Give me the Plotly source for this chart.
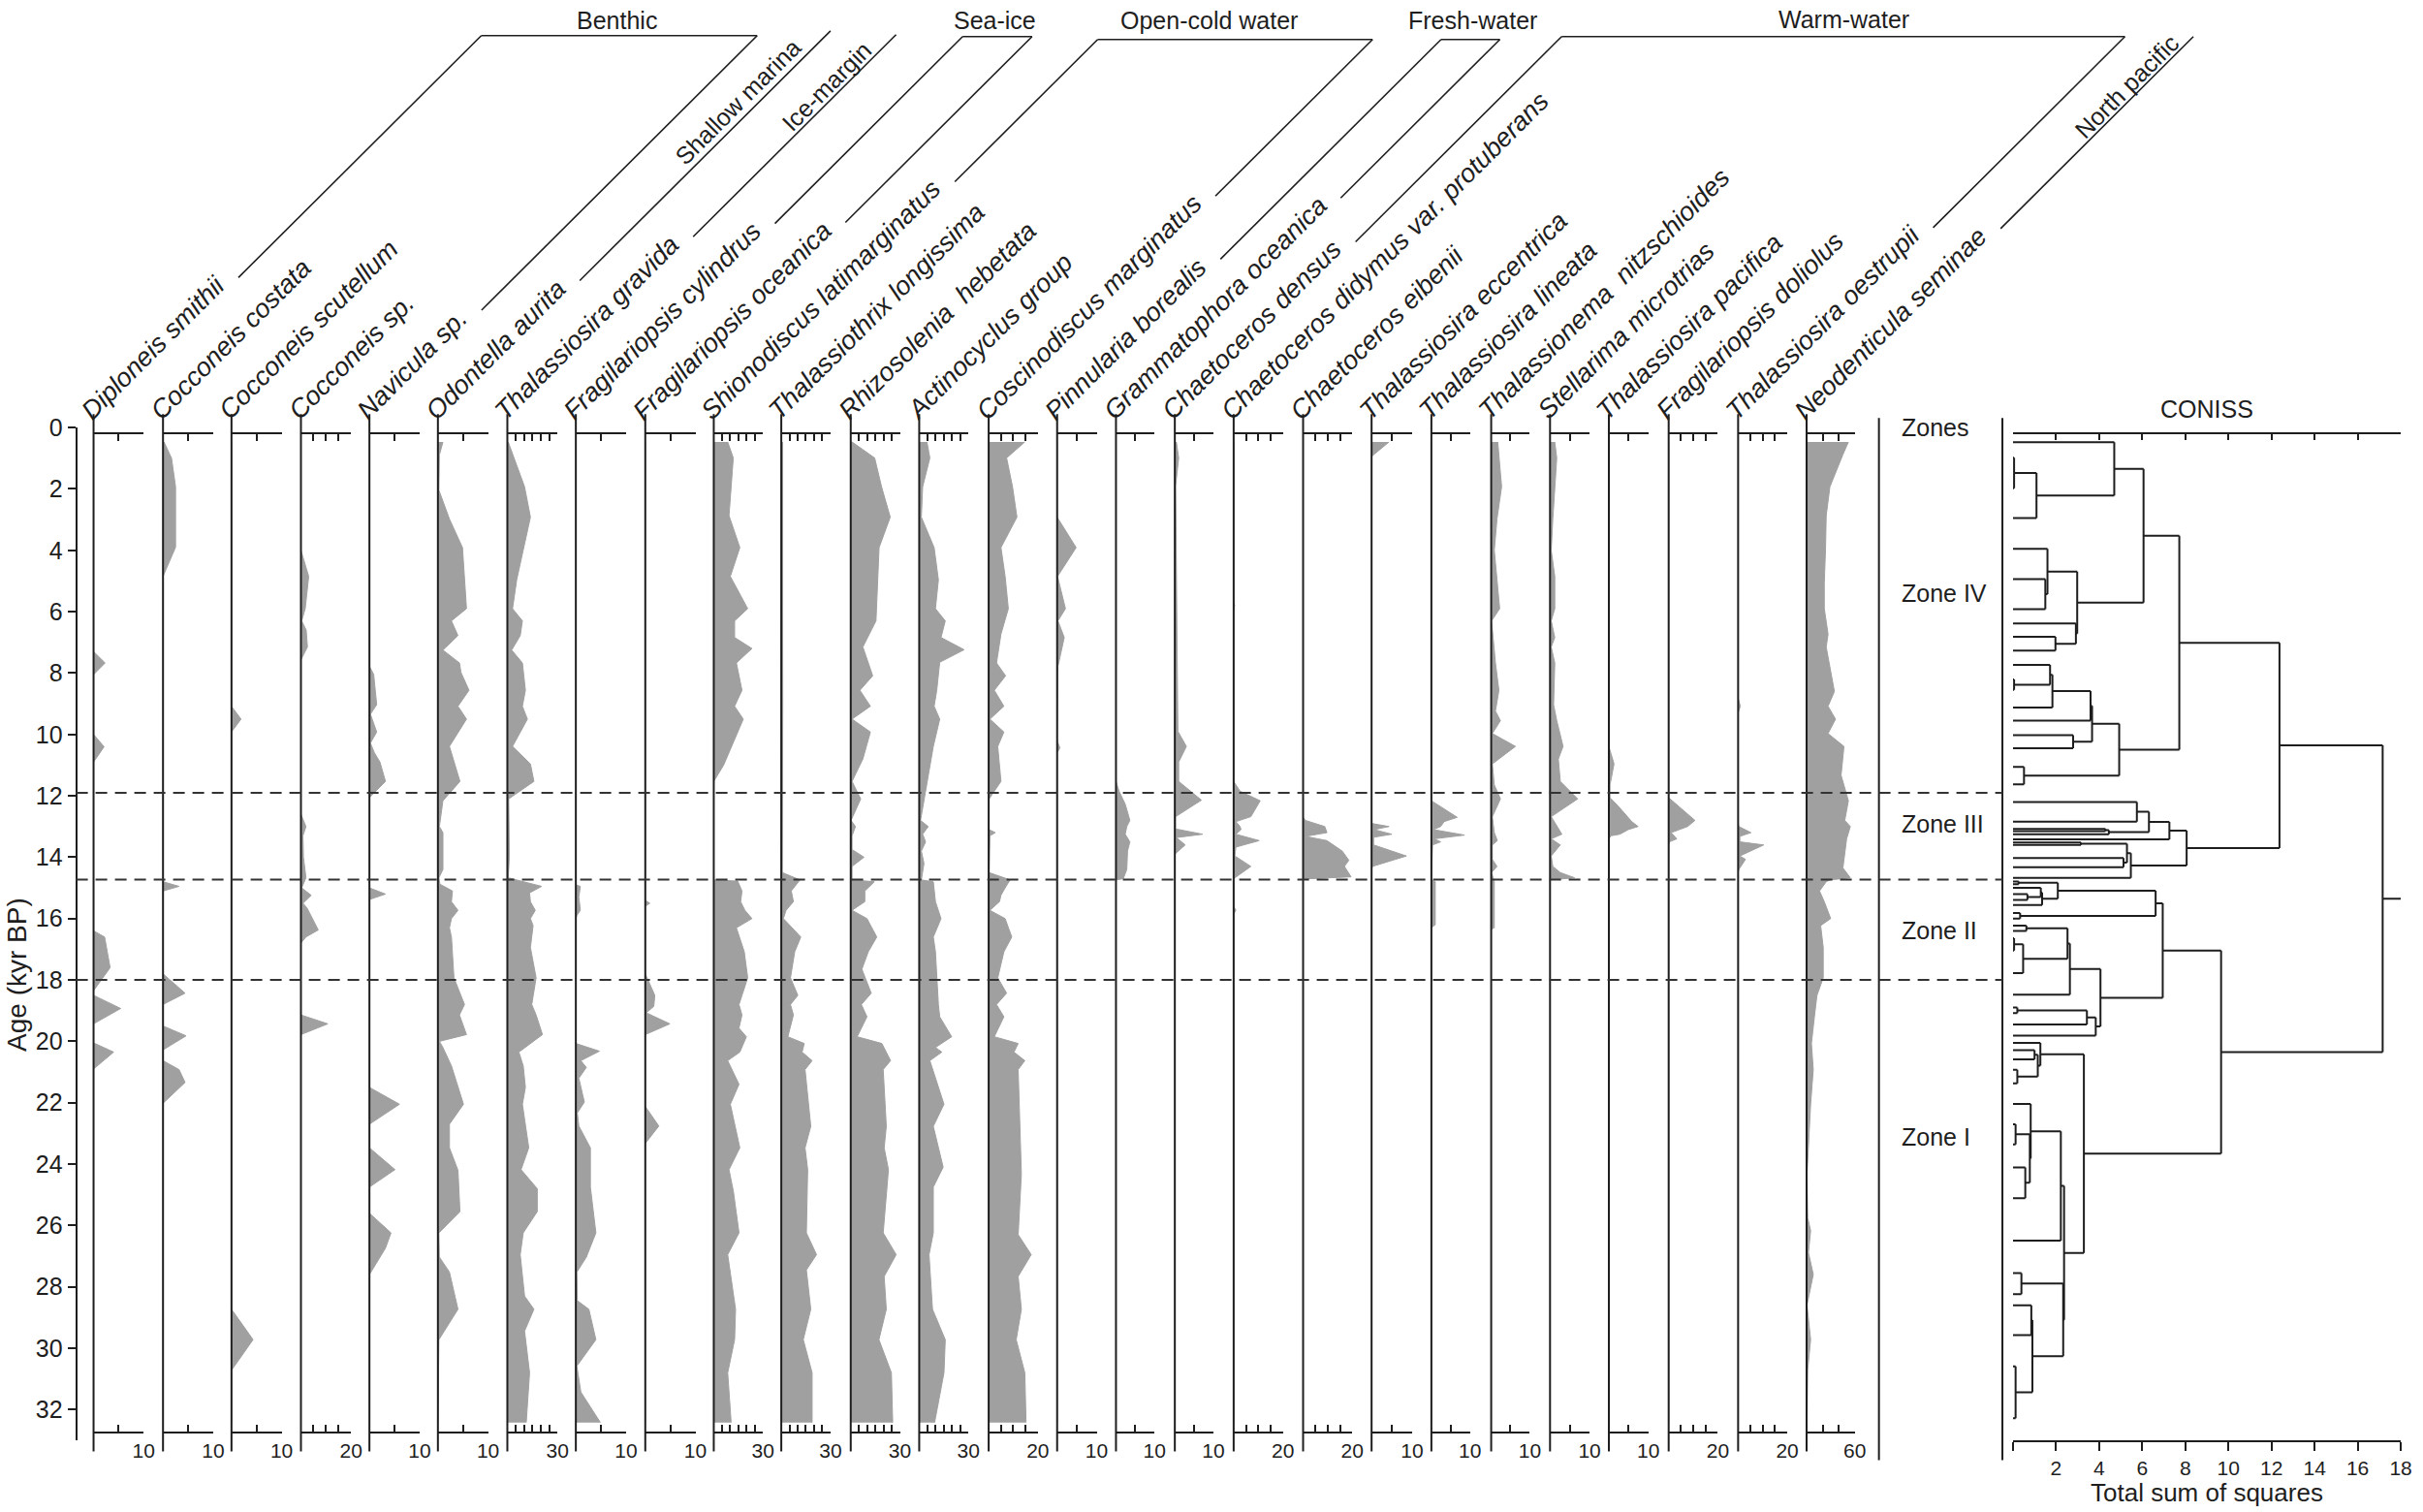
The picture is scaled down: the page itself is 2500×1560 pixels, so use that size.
import plotly.graph_objects as go

# ------------------------------------------------------------------ DATA
age_ticks = list(range(0, 33, 2))
zone_bounds = [11.9, 14.73, 18.0]
zone_names = ["Zones", "Zone IV", "Zone III", "Zone II", "Zone I"]
zone_label_ages = [0.0, 5.4, 12.9, 16.4, 23.1]

taxa = ["Diploneis smithii", "Cocconeis costata", "Cocconeis scutellum", "Cocconeis sp.",
        "Navicula sp.", "Odontella aurita", "Thalassiosira gravida", "Fragilariopsis cylindrus",
        "Fragilariopsis oceanica", "Shionodiscus latimarginatus", "Thalassiothrix longissima",
        "Rhizosolenia\u00a0 hebetata", "Actinocyclus group", "Coscinodiscus marginatus",
        "Pinnularia borealis", "Grammatophora oceanica", "Chaetoceros densus",
        "Chaetoceros didymus var. protuberans", "Chaetoceros eibenii", "Thalassiosira eccentrica",
        "Thalassiosira lineata", "Thalassionema\u00a0 nitzschioides", "Stellarima microtrias",
        "Thalassiosira pacifica", "Fragilariopsis doliolus", "Thalassiosira oestrupii",
        "Neodenticula seminae"]
scale_max = [10, 10, 10, 20, 10, 10, 30, 10, 10, 30, 30, 30, 30, 20, 10, 10, 10, 20, 20,
             10, 10, 10, 10, 10, 20, 20, 60]
tick_step = [5] * 26 + [20]

group_names = ["Benthic", "Shallow marina", "Ice-margin", "Sea-ice", "Open-cold water",
               "Fresh-water", "Warm-water", "North pacific"]
group_first = [0, 5, 6, 7, 9, 14, 16, 26]
group_last = [4, 5, 6, 8, 13, 15, 25, 26]

# (age kyr BP, percentage)
diploneis_smithii = [(0.5, 0), (7.3, 0), (7.67, 2.3), (8.05, 0), (10.0, 0), (10.4, 2.1), (10.9, 0),
                     (16.4, 0), (16.6, 2.2), (17.6, 3.3), (18.35, 0), (18.5, 0), (18.93, 5.4),
                     (19.43, 0), (20.05, 0), (20.35, 4.0), (20.9, 0), (32.4, 0)]
cocconeis_costata = [(0.47, 0.2), (1.0, 1.7), (1.93, 2.5), (3.9, 2.5), (4.85, 0), (14.8, 0),
                     (14.95, 3.2), (15.1, 0), (17.8, 0), (18.43, 4.4), (18.8, 0), (19.5, 0),
                     (19.82, 4.6), (20.28, 0), (20.63, 0), (20.92, 3.2), (21.34, 4.4), (22.02, 0),
                     (32.4, 0)]
cocconeis_scutellum = [(0.5, 0), (9.08, 0), (9.5, 1.9), (9.92, 0), (28.73, 0), (29.72, 4.3),
                       (30.72, 0), (32.4, 0)]
cocconeis_sp = [(0.5, 0), (4.0, 0), (4.85, 3.1), (5.9, 1.7), (6.3, 0.3), (6.6, 2.1), (7.15, 2.6),
                (7.57, 0), (12.6, 0), (12.8, 1.0), (13.0, 2.0), (13.3, 0.8), (14.0, 1.0),
                (14.67, 2.0), (15.0, 0.3), (15.24, 4.1), (15.5, 0.8), (15.65, 2.4), (16.0, 4.6),
                (16.37, 6.9), (16.6, 2.0), (16.8, 0), (19.14, 0), (19.43, 10.7), (19.78, 0),
                (32.4, 0)]
navicula_sp = [(0.5, 0), (7.78, 0), (8.04, 0.85), (9.03, 1.45), (9.34, 0.2), (9.92, 1.45),
               (10.28, 0.2), (10.6, 1.0), (10.9, 2.1), (11.53, 3.2), (12.06, 0), (15.0, 0),
               (15.2, 3.2), (15.38, 0), (21.5, 0), (22.05, 6.0), (22.7, 0), (23.47, 0),
               (24.18, 5.1), (24.75, 0), (25.6, 0), (26.24, 4.3), (26.74, 3.2), (27.6, 0),
               (32.4, 0)]
odontella_aurita = [(0.47, 1.0), (0.89, 0.3), (2.04, 0.2), (2.98, 2.3), (3.91, 4.9), (5.9, 5.7),
                    (6.3, 2.7), (6.78, 4.0), (7.25, 1.0), (7.67, 4.3), (7.98, 4.6), (8.56, 6.2),
                    (9.08, 4.0), (9.5, 5.7), (10.39, 2.3), (11.53, 4.4), (12.16, 1.0), (13.0, 0.3),
                    (13.2, 1.0), (14.4, 1.0), (14.67, 0.2), (14.88, 0.4), (15.1, 2.9),
                    (15.45, 2.7), (15.73, 4.0), (16.0, 2.7), (16.3, 2.3), (16.6, 2.7),
                    (17.93, 3.2), (18.8, 5.3), (19.14, 4.3), (19.78, 5.7), (20.0, 0.3),
                    (20.2, 1.0), (20.8, 2.7), (22.05, 5.1), (22.7, 2.3), (23.47, 2.3), (24.2, 4.0),
                    (25.55, 4.4), (26.24, 0.2), (27.03, 0.3), (27.52, 2.3), (28.73, 4.0),
                    (29.72, 0.2), (32.4, 0)]
thalassiosira_gravida = [(0.47, 0.5), (1.93, 10.3), (2.92, 13.8), (4.96, 5.6), (5.9, 3.1),
                         (6.3, 9.0), (6.78, 7.7), (7.25, 2.6), (7.67, 9.0), (8.56, 10.8),
                         (9.08, 9.0), (9.5, 12.0), (10.39, 3.1), (10.96, 13.8), (11.53, 15.9),
                         (12.1, 0.8), (13.0, 1.0), (14.0, 1.2), (14.67, 0.5), (14.8, 9.5),
                         (14.95, 20.5), (15.16, 13.3), (15.45, 13.8), (15.73, 16.7), (16.0, 13.8),
                         (16.23, 15.4), (16.94, 13.8), (17.93, 17.2), (18.8, 14.6), (19.14, 17.2),
                         (19.78, 21.0), (20.35, 6.9), (20.8, 9.5), (21.5, 10.8), (22.05, 9.0),
                         (23.47, 12.8), (24.18, 8.2), (24.8, 17.9), (25.55, 17.9), (26.24, 9.5),
                         (26.95, 7.7), (28.3, 10.3), (28.73, 15.9), (29.44, 10.3), (30.8, 13.3),
                         (32.42, 11.3)]
fragilariopsis_cylindrus = [(0.5, 0), (14.9, 0), (14.95, 0.9), (15.3, 0.6), (15.73, 0.9),
                            (15.9, 0.2), (16.0, 0), (20.07, 0), (20.32, 4.7), (20.63, 1.0),
                            (20.85, 2.1), (21.2, 0.6), (21.98, 1.7), (22.33, 0.3), (22.76, 0.6),
                            (23.47, 2.9), (24.75, 2.9), (26.24, 4.0), (27.03, 2.1), (27.52, 0.2),
                            (28.45, 0.3), (28.73, 2.6), (29.72, 4.0), (30.58, 0.2), (31.43, 1.0),
                            (32.42, 4.9)]
fragilariopsis_oceanica = [(0.5, 0), (15.4, 0), (15.5, 0.9), (15.6, 0), (17.8, 0), (18.2, 1.0),
                           (18.5, 1.9), (18.86, 1.7), (19.07, 0.2), (19.43, 4.9), (19.78, 0),
                           (22.12, 0), (22.76, 2.7), (23.33, 0), (32.4, 0)]
shionodiscus_latimarginatus = [(0.47, 8.5), (0.99, 11.9), (2.87, 9.3), (3.91, 15.9), (4.85, 10.1),
                               (5.9, 20.7), (6.3, 12.7), (6.84, 12.7), (7.2, 23.3), (7.67, 13.8),
                               (8.56, 17.2), (9.08, 12.7), (9.5, 18.0), (10.39, 10.6), (11.0, 6.0),
                               (11.53, 0), (14.74, 0), (14.78, 14.6), (15.1, 17.2), (15.45, 16.4),
                               (15.73, 19.0), (16.0, 23.3), (16.3, 13.8), (17.08, 18.6),
                               (17.93, 20.7), (18.8, 15.4), (19.14, 17.2), (19.57, 15.4),
                               (19.85, 19.9), (20.35, 15.9), (20.63, 8.5), (21.4, 15.4),
                               (22.05, 10.1), (23.47, 15.9), (24.18, 9.3), (24.9, 12.0),
                               (26.24, 15.4), (26.95, 8.5), (28.73, 13.3), (29.72, 12.7),
                               (30.8, 8.5), (32.42, 10.6)]
thalassiothrix_longissima = [(0.47, 0.8), (3.0, 0.6), (6.0, 0.8), (9.0, 0.9), (12.0, 0.7),
                             (13.0, 0.5), (14.5, 0.6), (14.74, 11.4), (15.1, 6.1), (15.45, 7.4),
                             (15.73, 2.9), (16.0, 1.3), (16.6, 11.9), (17.08, 8.2), (17.93, 5.6),
                             (18.5, 10.1), (18.8, 5.6), (19.14, 7.4), (19.85, 4.0), (20.07, 14.0),
                             (20.35, 12.7), (20.63, 18.8), (20.92, 14.5), (22.77, 18.0),
                             (23.47, 14.5), (24.18, 16.1), (26.24, 15.3), (26.95, 21.5),
                             (27.45, 15.3), (28.73, 18.0), (29.72, 13.4), (30.8, 18.8),
                             (32.42, 18.8)]
rhizosolenia_hebetata = [(0.47, 0.8), (0.99, 14.6), (1.93, 18.8), (2.92, 24.1), (3.91, 17.3),
                         (6.3, 15.4), (7.15, 7.4), (8.09, 13.4), (8.56, 5.6), (9.08, 12.0),
                         (9.5, 0.8), (9.92, 12.0), (10.8, 7.4), (11.53, 0.8), (12.1, 6.1),
                         (12.8, 0.2), (13.0, 2.9), (13.3, 0.8), (13.75, 0.8), (14.0, 8.1),
                         (14.3, 0.8), (14.74, 0.8), (14.8, 14.4), (15.1, 8.6), (15.45, 8.6),
                         (15.73, 0.8), (16.0, 9.9), (16.6, 15.9), (17.08, 10.7), (17.65, 6.8),
                         (18.43, 12.5), (18.8, 6.5), (19.2, 9.9), (19.85, 3.9), (20.07, 19.0),
                         (20.63, 24.3), (20.92, 19.8), (22.77, 21.7), (23.47, 20.4), (24.18, 23.0),
                         (26.24, 19.8), (26.95, 27.7), (27.66, 20.4), (28.73, 21.7), (29.72, 17.2),
                         (30.8, 24.8), (32.42, 25.6)]
actinocyclus_group = [(0.47, 4.7), (0.99, 6.5), (1.93, 2.1), (2.92, 1.3), (3.91, 9.1), (4.96, 11.7),
                      (5.9, 9.9), (6.3, 15.9), (6.84, 13.3), (7.24, 27.4), (7.65, 12.5), (8.56, 10.7),
                      (9.08, 9.1), (9.5, 12.5), (10.39, 8.6), (11.53, 4.7), (12.8, 0.8), (13.0, 5.5),
                      (13.25, 2.1), (13.5, 3.9), (13.8, 1.3), (14.2, 2.9), (14.74, 1.3), (14.8, 8.6),
                      (15.24, 9.4), (15.45, 9.9), (16.0, 13.3), (16.6, 8.6), (17.08, 9.9),
                      (17.93, 10.7), (18.8, 11.7), (19.2, 12.5), (19.85, 19.8), (20.2, 9.9),
                      (20.35, 13.8), (20.63, 6.5), (22.05, 15.1), (22.77, 8.6), (24.1, 14.6),
                      (24.75, 8.6), (26.24, 8.6), (26.95, 6.0), (28.73, 8.1), (29.72, 15.9),
                      (30.8, 15.1), (32.42, 9.4)]
coscinodiscus_marginatus = [(0.47, 14.7), (0.99, 7.3), (1.93, 9.7), (2.92, 11.5), (3.91, 5.0),
                            (4.85, 6.7), (5.9, 8.0), (6.73, 5.0), (7.67, 3.2), (8.09, 6.9),
                            (8.56, 2.3), (9.08, 6.2), (9.5, 0.5), (9.92, 6.2), (10.39, 3.7),
                            (11.53, 5.0), (12.1, 0.2), (13.1, 0.2), (13.2, 2.7), (13.3, 0.5),
                            (14.5, 0.2), (14.74, 8.7), (15.0, 6.7), (15.24, 5.0), (15.45, 4.4),
                            (15.73, 0.5), (16.0, 6.7), (16.6, 9.4), (17.08, 6.2), (17.93, 3.7),
                            (18.43, 7.3), (18.8, 3.2), (19.2, 6.2), (19.85, 2.3), (20.07, 12.0),
                            (20.35, 10.3), (20.63, 14.7), (20.92, 12.0), (24.33, 13.3), (26.3, 12.0),
                            (26.95, 17.3), (27.66, 12.0), (28.73, 13.3), (29.72, 11.2), (30.8, 14.7),
                            (32.42, 15.2)]
pinnularia_borealis = [(0.5, 0), (2.92, 0), (3.91, 4.8), (4.85, 0.1), (5.9, 2.1), (6.3, 0.2),
                       (6.84, 1.8), (7.78, 0.2), (10.2, 0), (10.44, 0.7), (10.6, 0), (32.4, 0)]
grammatophora_oceanica = [(0.5, 0), (11.53, 0), (11.85, 0.8), (12.27, 2.4), (12.8, 3.6),
                          (13.0, 2.8), (13.25, 2.4), (13.5, 3.6), (13.8, 3.0), (14.4, 2.8),
                          (14.7, 1.9), (14.74, 0), (32.4, 0)]
chaetoceros_densus = [(0.47, 0.4), (0.99, 1.0), (1.9, 0.2), (5.27, 0.4), (9.9, 0.8), (10.39, 3.0),
                      (10.9, 1.0), (11.53, 1.0), (12.14, 6.9), (12.68, 0.2), (13.08, 0.2),
                      (13.25, 7.2), (13.36, 0.4), (13.6, 2.7), (13.89, 0.1), (14.74, 0), (32.4, 0)]
chaetoceros_didymus = [(0.5, 0), (5.6, 0), (5.8, 0.4), (6.0, 0), (11.53, 0), (11.85, 2.6),
                       (12.16, 10.8), (12.68, 7.0), (12.84, 0.9), (13.0, 2.6), (13.1, 3.0),
                       (13.25, 0.9), (13.46, 10.4), (13.67, 0.9), (13.96, 0.5), (14.3, 7.0),
                       (14.67, 0.5), (14.74, 0), (15.6, 0), (15.73, 0.9), (15.85, 0), (32.4, 0)]
chaetoceros_eibenii = [(0.5, 0), (12.7, 0), (12.8, 0.9), (13.0, 8.8), (13.2, 9.7), (13.32, 0.9),
                       (13.46, 9.7), (13.8, 15.9), (14.1, 18.6), (14.3, 16.8), (14.64, 19.5),
                       (14.71, 0), (32.4, 0)]
thalassiosira_eccentrica = [(0.47, 4.3), (0.94, 0), (12.9, 0), (13.0, 4.3), (13.1, 0.6),
                            (13.25, 5.0), (13.35, 0.5), (13.6, 0.5), (13.96, 8.6), (14.3, 0.2),
                            (14.4, 0), (32.4, 0)]
thalassiosira_lineata = [(0.5, 0), (12.16, 0), (12.7, 6.7), (12.84, 3.3), (13.0, 2.4), (13.1, 0.5),
                         (13.28, 8.6), (13.4, 0.7), (13.5, 2.4), (13.6, 0.3), (14.74, 0),
                         (14.8, 1.0), (16.2, 1.0), (16.3, 0), (32.4, 0)]
thalassionema_nitzschioides = [(0.47, 1.7), (1.93, 2.7), (2.98, 1.5), (4.0, 0.8), (5.9, 2.2),
                               (6.3, 0.1), (7.67, 1.1), (8.56, 2.0), (9.24, 1.1), (9.55, 2.4),
                               (9.97, 0.3), (10.39, 6.3), (10.96, 0.3), (11.64, 0.8), (12.1, 2.4),
                               (12.68, 0.3), (13.2, 0.8), (13.46, 1.6), (13.6, 0.3), (14.07, 0.3),
                               (14.3, 1.5), (14.5, 0.1), (14.8, 0.8), (16.3, 0.8), (16.35, 0),
                               (32.4, 0)]
stellarima_microtrias = [(0.47, 1.2), (0.99, 1.7), (2.98, 0.7), (4.0, 0.3), (4.85, 1.2), (5.9, 1.2),
                         (6.3, 0.3), (6.84, 1.2), (7.15, 0.3), (7.67, 1.2), (9.03, 0.9),
                         (9.55, 1.7), (10.39, 3.3), (10.8, 2.1), (11.53, 2.6), (12.1, 7.0),
                         (12.68, 0.3), (13.25, 3.0), (13.4, 0.3), (13.6, 2.6), (13.96, 0.3),
                         (14.3, 0.7), (14.5, 2.6), (14.67, 6.2), (14.74, 0), (32.4, 0)]
thalassiosira_pacifica = [(0.5, 0), (10.39, 0), (10.96, 1.3), (11.64, 0.3), (12.06, 0.3),
                          (12.37, 2.6), (12.84, 5.8), (13.0, 7.4), (13.1, 4.9), (13.25, 2.8),
                          (13.3, 0.6), (13.4, 0), (32.4, 0)]
fragilariopsis_doliolus = [(0.5, 0), (12.06, 0), (12.8, 10.7), (13.0, 7.7), (13.2, 1.0),
                           (13.4, 3.3), (13.5, 0.3), (13.6, 0), (32.4, 0)]
thalassiosira_oestrupii = [(0.5, 0), (8.82, 0), (9.08, 0.9), (9.3, 0), (12.9, 0), (13.0, 0.3),
                           (13.2, 5.2), (13.32, 0.7), (13.5, 0.7), (13.6, 10.4), (13.96, 0.7),
                           (14.07, 3.0), (14.4, 0.3), (14.5, 0), (32.4, 0)]
neodenticula_seminae = [(0.47, 52), (0.89, 45), (1.93, 29), (2.87, 24.4), (4.0, 23.5), (5.06, 22),
                        (5.9, 22), (6.73, 26.7), (7.15, 24.4), (7.78, 29), (8.6, 34.6),
                        (9.08, 26.7), (9.5, 36), (9.97, 26.7), (10.39, 46.5), (11.33, 42.9),
                        (12.16, 52), (12.8, 47.5), (13.0, 54.4), (13.4, 49.8), (13.8, 47.5),
                        (14.35, 45.2), (14.67, 54.4), (14.74, 29), (14.8, 24.4), (15.1, 16.1),
                        (15.45, 22), (16.0, 30), (16.23, 17.5), (16.94, 20.7), (17.93, 20.7),
                        (18.5, 12.9), (19.2, 9.7), (20.07, 6), (20.92, 8.3), (22.05, 5),
                        (24.33, 0.5), (25.75, 1.4), (26.17, 5), (26.88, 2.3), (27.6, 8.3),
                        (28.59, 0.5), (29.72, 5), (30.7, 1.4), (32.42, 0.5)]

profiles = [diploneis_smithii, cocconeis_costata, cocconeis_scutellum, cocconeis_sp, navicula_sp,
            odontella_aurita, thalassiosira_gravida, fragilariopsis_cylindrus,
            fragilariopsis_oceanica, shionodiscus_latimarginatus, thalassiothrix_longissima,
            rhizosolenia_hebetata, actinocyclus_group, coscinodiscus_marginatus,
            pinnularia_borealis, grammatophora_oceanica, chaetoceros_densus, chaetoceros_didymus,
            chaetoceros_eibenii, thalassiosira_eccentrica, thalassiosira_lineata,
            thalassionema_nitzschioides, stellarima_microtrias, thalassiosira_pacifica,
            fragilariopsis_doliolus, thalassiosira_oestrupii, neodenticula_seminae]

# CONISS cluster tree: [total sum of squares, left, right]; leaves are sample ages (kyr BP)
coniss_tree = [17.16,
  [12.37,
    [7.72,
      [6.06,
        [4.7, 0.48, [1.09, [0.05, 0.98, 1.98], 2.95]],
        [2.98, [1.6, 3.95, [1.5, 4.94, 5.92]], [2.92, 6.38, [1.97, 6.82, 7.27]]]],
      [4.93,
        [3.67, [3.6, [1.83, [1.72, 7.73, [0.05, 8.21, 8.55]], 9.12], 9.55], [2.79, 10.02, 10.45]],
        [0.51, 11.06, 11.63]]],
    [8.06,
      [7.26, [6.31, [5.75, 12.2, 12.84], [4.45, [4.29, 13.08, 13.15], 13.25]], 13.42],
      [5.47, [5.29, [3.15, 13.52, 13.6], [5.13, 14.03, 14.33]], 14.67]]],
  [9.66,
    [6.95,
      [6.62, [2.08, [0.26, 14.79, 14.88], [1.35, [1.29, 15.0, [0.67, 15.2, 15.39]], 15.56]],
             [0.33, 15.82, 16.0]],
      [4.06, [2.64, [2.53, [0.62, 16.23, 16.4], [0.47, [0.05, 16.64, 17.04], 17.78]], 18.48],
             [3.84, [3.43, [0.2, 18.9, 19.08], 19.45], 19.81]]],
    [3.29,
      [1.27, 20.05, [1.15, [1.0, 20.29, 20.59], [0.2, 20.93, 21.37]]],
      [2.37, [2.22, [0.82, 22.04, [0.78, [0.12, 22.7, 23.36], [0.57, 24.11, 25.11]]], 26.49],
             [2.33, [0.39, 27.55, 28.24], [0.9, [0.85, 28.6, 29.57], [0.12, 30.59, 32.28]]]]]]]
coniss_max = 18
coniss_ticks = list(range(0, 19, 2))

# ------------------------------------------------------------------ LAYOUT
FIG_W, FIG_H = 2500, 1560
AGE0_PX, PX_PER_KYR = 431.0, 31.95
PANEL_X = [97, 169, 240, 312, 383, 454, 526, 597, 669, 740, 810, 882, 953, 1025, 1096, 1157,
           1218, 1279, 1351, 1422, 1484, 1546, 1607, 1668, 1730, 1802, 1873]
PANEL_W = [52] * 9 + [51] * 5 + [41, 40, 40] + [51, 51] + [42, 40, 40, 41, 41] + [51, 51, 50]
HEADER_PX, FOOTER_PX = 437, 1477
PANEL_TOP_PX, PANEL_BOT_PX = 417, 1497
AGE_AXIS_X = 79
ZONE_X0, ZONE_X1 = 1948, 2076
CONISS_X0, CONISS_X1 = 2087, 2489
CONISS_BOT_PX = 1486
GROUP_TOP_PX = [23, 18, 22, 24, 27, 27, 24, 24]
GROUP_LABEL_POS = [(640, 7, 0), (765, 92, -45), (857, 76, -45), (1031, 7, 0), (1254, 7, 0),
                   (1527, 7, 0), (1912, 6, 0), (2205, 76, -45)]
GRAY = "#a0a0a0"
INK = "#1e1e1e"
FONT = "Liberation Sans, Arial, sans-serif"
SP_FONT = 27


def py(age):
    return AGE0_PX + PX_PER_KYR * age


def fx(px):
    return px / FIG_W


def fy(pyv):
    return 1 - pyv / FIG_H


CW = {' ': 278, 'a': 556, 'b': 556, 'c': 500, 'd': 556, 'e': 556, 'f': 278, 'g': 556, 'h': 556,
      'i': 222, 'j': 222, 'k': 500, 'l': 222, 'm': 833, 'n': 556, 'o': 556, 'p': 556, 'q': 556,
      'r': 333, 's': 500, 't': 278, 'u': 556, 'v': 500, 'w': 722, 'x': 500, 'y': 500, 'z': 500,
      '.': 278, '-': 333, 'A': 667, 'C': 722, 'D': 722, 'F': 611, 'G': 778, 'N': 722, 'O': 778,
      'P': 667, 'R': 722, 'S': 667, 'T': 611, '\u00a0': 278}


def text_w(s, size):
    return sum(CW.get(c, 556) for c in s) / 1000.0 * size


fig = go.Figure()
layout = dict(width=FIG_W, height=FIG_H, margin=dict(l=0, r=0, t=0, b=0),
              paper_bgcolor="white", plot_bgcolor="rgba(0,0,0,0)", showlegend=False,
              font=dict(family=FONT, color=INK))

y_lo, y_hi = 33.6, -0.6
layout["yaxis"] = dict(domain=[fy(py(y_lo)), fy(py(y_hi))], range=[y_lo, y_hi], visible=False,
                       showgrid=False, zeroline=False)
layout["yaxis2"] = dict(domain=[fy(py(33.0)), fy(py(0.0))], range=[33.0, 0.0], anchor="free",
                        position=fx(AGE_AXIS_X), showline=True, linecolor=INK, linewidth=2,
                        ticks="outside", ticklen=8, tickwidth=2, tickcolor=INK,
                        tickvals=age_ticks, tickfont=dict(size=25), showgrid=False,
                        zeroline=False)

n = len(taxa)
for i in range(n):
    bname = "xaxis" if i == 0 else f"xaxis{i + 1}"
    bref = "x" if i == 0 else f"x{i + 1}"
    tname, tref = f"xaxis{i + 1 + n}", f"x{i + 1 + n}"
    m, st = scale_max[i], tick_step[i]
    tv = list(range(0, m + 1, st))
    tt = [""] * (len(tv) - 1) + [str(m)]
    dom = [fx(PANEL_X[i]), fx(PANEL_X[i] + PANEL_W[i])]
    layout[bname] = dict(domain=dom, range=[0, m], anchor="free", position=fy(FOOTER_PX),
                         showline=True, linecolor=INK, linewidth=2, ticks="inside", ticklen=7,
                         tickwidth=2, tickcolor=INK, tickvals=tv, ticktext=tt,
                         tickfont=dict(size=21), showgrid=False, zeroline=False)
    layout[tname] = dict(overlaying=bref, side="top", range=[0, m], anchor="free",
                         position=fy(HEADER_PX), showline=True, linecolor=INK, linewidth=2,
                         ticks="inside", ticklen=7, tickwidth=2, tickcolor=INK, tickvals=tv,
                         showticklabels=False, showgrid=False, zeroline=False)
    ages = [a for a, v in profiles[i]]
    vals = [v for a, v in profiles[i]]
    fig.add_trace(go.Scatter(x=vals, y=ages, xaxis=bref, yaxis="y", mode="lines",
                             fill="tozerox", fillcolor=GRAY, line=dict(color=GRAY, width=1),
                             hoverinfo="skip"))
    fig.add_trace(go.Scatter(x=[0], y=[0], xaxis=tref, yaxis="y", mode="markers",
                             marker=dict(opacity=0), hoverinfo="skip"))

# age axis anchor trace
fig.add_trace(go.Scatter(x=[0], y=[0], xaxis="x", yaxis="y2", mode="markers",
                         marker=dict(opacity=0), hoverinfo="skip"))

# CONISS dendrogram
cb, ct = 2 * n + 1, 2 * n + 2
layout[f"xaxis{cb}"] = dict(domain=[fx(CONISS_X0), fx(CONISS_X1)], range=[0, coniss_max],
                            anchor="free", position=fy(CONISS_BOT_PX), showline=True,
                            linecolor=INK, linewidth=2, ticks="outside", ticklen=9, tickwidth=2,
                            tickcolor=INK, tickvals=coniss_ticks,
                            ticktext=[""] + [str(v) for v in coniss_ticks[1:]],
                            tickfont=dict(size=21), showgrid=False, zeroline=False)
layout[f"xaxis{ct}"] = dict(overlaying=f"x{cb}", side="top", range=[0, coniss_max],
                            anchor="free", position=fy(HEADER_PX), showline=True, linecolor=INK,
                            linewidth=2, ticks="inside", ticklen=6, tickwidth=2, tickcolor=INK,
                            tickvals=coniss_ticks, showticklabels=False, showgrid=False,
                            zeroline=False)
dx, dy = [], []


def walk(node):
    if not isinstance(node, list):
        return node, 0.0
    h, left, right = node
    yl, hl = walk(left)
    yr, hr = walk(right)
    dx.extend([hl, h, None, hr, h, None, h, h, None])
    dy.extend([yl, yl, None, yr, yr, None, yl, yr, None])
    return (yl + yr) / 2.0, h


ry, rh = walk(coniss_tree)
dx.extend([rh, coniss_max])
dy.extend([ry, ry])
fig.add_trace(go.Scatter(x=dx, y=dy, xaxis=f"x{cb}", yaxis="y", mode="lines",
                         line=dict(color=INK, width=2), hoverinfo="skip"))
fig.add_trace(go.Scatter(x=[0], y=[0], xaxis=f"x{ct}", yaxis="y", mode="markers",
                         marker=dict(opacity=0), hoverinfo="skip"))

shapes, annos = [], []
lw = dict(color=INK, width=2)
for i in range(n):
    shapes.append(dict(type="line", xref="paper", yref="paper", x0=fx(PANEL_X[i]),
                       x1=fx(PANEL_X[i]), y0=fy(PANEL_TOP_PX), y1=fy(PANEL_BOT_PX), line=lw))
    annos.append(dict(text=f"<i>{taxa[i]}</i>", xref="paper", yref="paper",
                      x=fx(PANEL_X[i] - 20), y=fy(430), xanchor="left", yanchor="bottom",
                      textangle=-45, showarrow=False, borderpad=0,
                      font=dict(size=SP_FONT, family=FONT, color=INK)))
for zx in (ZONE_X0, ZONE_X1):
    shapes.append(dict(type="line", xref="paper", yref="paper", x0=fx(zx), x1=fx(zx),
                       y0=fy(421), y1=fy(1506), line=lw))
for b in zone_bounds:
    shapes.append(dict(type="line", xref="paper", yref="paper", x0=fx(AGE_AXIS_X), x1=fx(ZONE_X1),
                       y0=fy(py(b)), y1=fy(py(b)), line=dict(color="#333", width=2,
                                                              dash="12px,8px")))


def leg(i, top):
    s = text_w(taxa[i], SP_FONT) + 16
    bx = PANEL_X[i] + 6 + 0.707 * s - 5
    by = 429 - 0.707 * s - 5
    cst = bx + by
    tx = cst - top
    shapes.append(dict(type="line", xref="paper", yref="paper", x0=fx(bx), y0=fy(by),
                       x1=fx(tx), y1=fy(top), line=dict(color=INK, width=1.6)))
    return tx


for g in range(len(group_names)):
    top = GROUP_TOP_PX[g]
    t0 = leg(group_first[g], top)
    if group_last[g] != group_first[g]:
        t1 = leg(group_last[g], top)
        shapes.append(dict(type="line", xref="paper", yref="paper", x0=fx(t0), y0=fy(top),
                           x1=fx(t1), y1=fy(top), line=dict(color=INK, width=1.6)))
    gx, gy, ang = GROUP_LABEL_POS[g]
    annos.append(dict(text=group_names[g], xref="paper", yref="paper", x=fx(gx), y=fy(gy),
                      xanchor="center", yanchor="middle", textangle=ang, showarrow=False,
                      borderpad=0, font=dict(size=25, family=FONT, color=INK)))

for name, a in zip(zone_names, zone_label_ages):
    annos.append(dict(text=name, xref="paper", yref="paper", x=fx(1969), y=fy(py(a)),
                      xanchor="left", yanchor="middle", showarrow=False,
                      font=dict(size=25, family=FONT, color=INK)))
annos.append(dict(text="CONISS", xref="paper", yref="paper", x=fx(2288), y=fy(412),
                  xanchor="center", yanchor="middle", showarrow=False,
                  font=dict(size=25, family=FONT, color=INK)))
annos.append(dict(text="Total sum of squares", xref="paper", yref="paper", x=fx(2288),
                  y=fy(1540), xanchor="center", yanchor="middle", showarrow=False,
                  font=dict(size=26, family=FONT, color=INK)))
annos.append(dict(text="Age (kyr BP)", xref="paper", yref="paper", x=fx(17), y=fy(1000),
                  xanchor="center", yanchor="middle", textangle=-90, showarrow=False,
                  font=dict(size=28, family=FONT, color=INK)))

layout["shapes"] = shapes
layout["annotations"] = annos
fig.update_layout(**layout)
fig.write_html("out.html", config={"displayModeBar": False},
               post_script="document.body.style.margin='0px';"
                           "document.body.style.overflow='hidden';")
